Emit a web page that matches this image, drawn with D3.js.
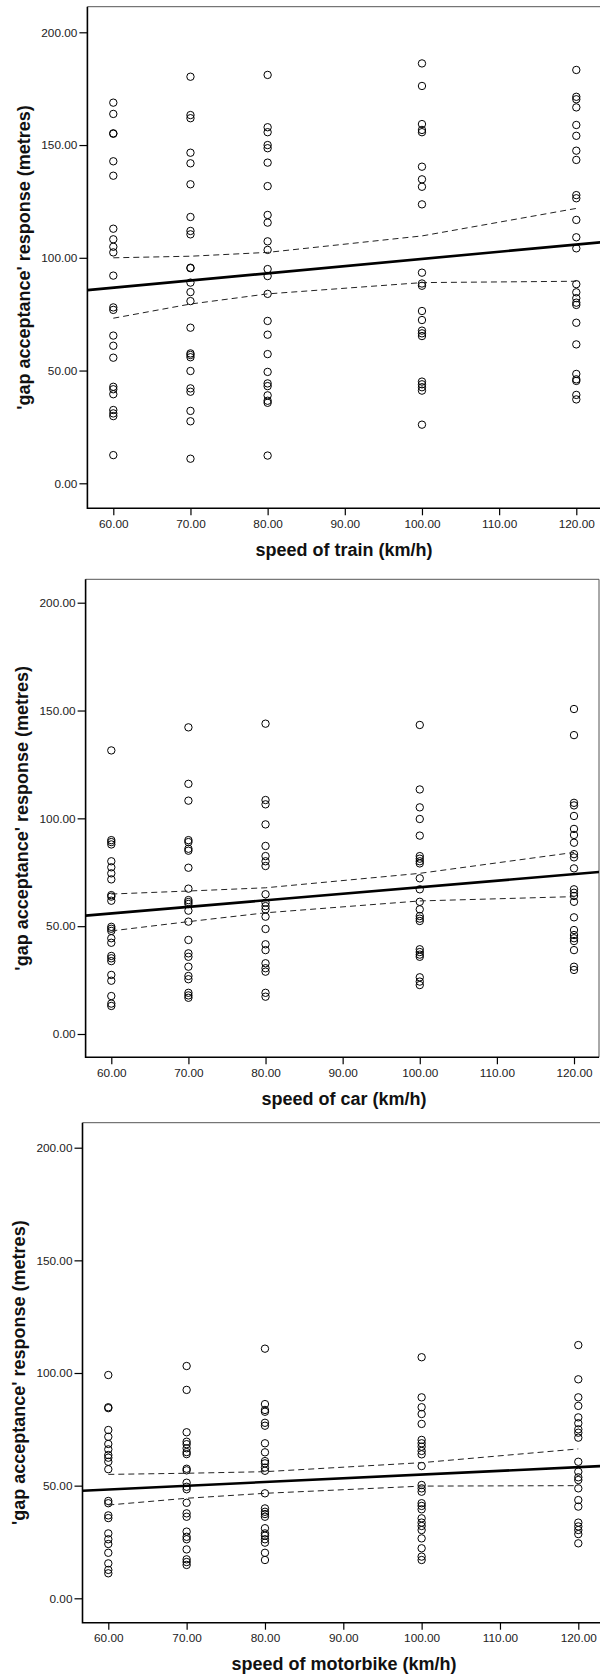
<!DOCTYPE html>
<html>
<head>
<meta charset="utf-8">
<script src="https://cdn.jsdelivr.net/npm/d3@7"></script>
<style>
  html, body { margin: 0; padding: 0; background: #fff; }
  svg { display: block; }
  text { font-family: "Liberation Sans", Arial, sans-serif; }
</style>
</head>
<body>
<svg id="chart" width="600" height="1678"></svg>
<script>
// ---------------- DATA ----------------
const speeds = [60, 70, 80, 100, 120];
const yTicks = [0, 50, 100, 150, 200];
const xTicks = [60, 70, 80, 90, 100, 110, 120];
const yTitle = "'gap acceptance' response (metres)";
const xTitles = ["speed of train (km/h)", "speed of car (km/h)", "speed of motorbike (km/h)"];

// responses per speed (60, 70, 80, 100, 120)
const trainResponses = [
  [168.8, 163.8, 155.2, 155.0, 142.8, 136.4, 112.9, 108.2, 104.9, 102.4, 92.1, 78.0, 76.9, 65.5, 61.0, 55.7, 42.8, 41.7, 39.5, 32.5, 31.0, 29.8, 12.5],
  [180.3, 163.3, 161.9, 146.6, 141.9, 132.6, 118.1, 111.9, 110.4, 95.6, 95.4, 89.0, 84.8, 80.8, 69.0, 57.6, 56.9, 55.9, 49.8, 42.1, 40.6, 32.1, 27.5, 10.9],
  [181.1, 157.9, 155.7, 150.0, 148.6, 142.2, 131.8, 119.0, 115.6, 107.3, 103.5, 95.0, 91.9, 84.0, 72.0, 65.9, 57.3, 49.4, 44.3, 43.1, 39.0, 36.6, 35.7, 12.3],
  [186.2, 176.2, 159.3, 156.7, 155.7, 140.4, 134.8, 131.5, 123.7, 93.4, 88.6, 87.6, 76.4, 72.4, 67.7, 66.5, 65.3, 45.1, 43.9, 42.6, 41.1, 26.0],
  [183.3, 171.4, 170.3, 166.7, 158.9, 154.1, 147.5, 143.4, 127.8, 126.4, 116.8, 109.1, 104.2, 88.3, 84.7, 82.1, 80.1, 79.1, 71.2, 61.6, 48.5, 46.1, 45.4, 39.2, 37.2]
];
const carResponses = [
  [131.5, 89.9, 89.0, 87.9, 80.1, 77.3, 74.5, 71.7, 64.4, 63.7, 61.8, 49.7, 48.8, 47.8, 44.4, 42.3, 36.2, 35.1, 33.8, 27.4, 24.7, 17.6, 14.1, 13.0],
  [142.2, 116.0, 108.2, 89.9, 89.0, 85.9, 85.0, 77.1, 67.4, 62.1, 61.2, 60.3, 57.2, 52.1, 43.6, 37.4, 35.8, 31.2, 26.9, 25.4, 19.1, 17.9, 16.8],
  [143.9, 108.5, 106.5, 97.2, 87.2, 82.5, 80.1, 77.9, 64.8, 60.9, 59.3, 57.8, 54.4, 48.7, 41.6, 38.9, 32.8, 30.5, 28.9, 19.1, 17.3],
  [143.3, 113.4, 105.1, 99.7, 92.0, 82.5, 81.3, 80.1, 79.1, 72.2, 67.1, 61.3, 57.8, 54.7, 53.5, 52.4, 39.3, 38.0, 36.8, 35.8, 26.3, 24.3, 22.7],
  [150.7, 138.6, 107.2, 106.0, 101.1, 95.1, 92.3, 88.7, 83.4, 81.9, 76.8, 67.1, 65.5, 64.0, 61.3, 54.1, 48.2, 45.9, 44.4, 43.1, 38.9, 31.2, 29.7]
];
const motorbikeResponses = [
  [99.1, 84.8, 84.4, 74.7, 71.7, 68.5, 66.1, 63.6, 62.4, 60.6, 57.3, 43.2, 42.2, 36.8, 35.6, 28.8, 26.2, 24.1, 20.2, 15.5, 12.6, 11.1],
  [103.1, 92.5, 73.7, 69.5, 68.4, 66.6, 64.9, 64.0, 57.5, 56.8, 51.3, 49.5, 48.4, 42.4, 37.7, 36.2, 29.6, 27.3, 26.2, 21.7, 17.3, 16.1, 14.8],
  [110.8, 86.2, 83.6, 82.8, 77.9, 76.6, 68.8, 64.8, 60.9, 59.9, 58.0, 56.6, 46.6, 39.9, 38.4, 37.4, 36.2, 31.1, 28.8, 27.8, 26.2, 24.7, 20.2, 17.0],
  [107.0, 89.2, 84.8, 81.8, 77.4, 70.3, 68.8, 67.3, 65.4, 63.9, 58.7, 50.3, 48.8, 47.3, 42.2, 41.0, 39.5, 35.5, 33.6, 32.1, 30.3, 26.6, 22.2, 18.5, 17.0],
  [112.4, 97.2, 89.2, 85.4, 80.3, 77.7, 75.0, 73.5, 71.3, 60.6, 56.2, 53.7, 52.5, 48.8, 43.6, 40.7, 33.6, 31.9, 30.3, 28.5, 24.4]
];

// linear fit (intercept, slope) per panel
const fitIntercepts = [67.6, 37.7, 38.4];
const fitSlopes = [0.319, 0.3035, 0.165];
// 95% CI of mean, at each speed
const ciUpper = [
  [100.0, 100.7, 102.4, 109.7, 121.9],
  [64.9, 66.3, 67.8, 74.5, 84.2],
  [55.0, 55.5, 56.2, 60.2, 66.3]
];
const ciLower = [
  [73.2, 79.5, 84.0, 89.0, 89.6],
  [47.8, 52.1, 56.2, 61.7, 63.7],
  [41.4, 44.4, 46.6, 49.8, 50.0]
];

// ---------------- LAYOUT ----------------
const panels = [
  { responses: trainResponses, x60: 113.3, x120: 576.3, left: 87.4, right: 606, y0: 483.3, y200: 32.3, top: 6.7, bottom: 508.3 },
  { responses: carResponses, x60: 111.3, x120: 574.0, left: 85.6, right: 599, y0: 1034.0, y200: 602.7, top: 579.3, bottom: 1057.3 },
  { responses: motorbikeResponses, x60: 108.3, x120: 578.3, left: 82.5, right: 606, y0: 1598.3, y200: 1147.7, top: 1122.7, bottom: 1622.7 }
];

const svg = d3.select("#chart");
const fmt = d3.format(".2f");

panels.forEach((p, i) => {
  const x = d3.scaleLinear().domain([60, 120]).range([p.x60, p.x120]);
  const y = d3.scaleLinear().domain([0, 200]).range([p.y0, p.y200]);
  const g = svg.append("g");

  const clipId = "clip" + i;
  svg.append("clipPath").attr("id", clipId)
    .append("rect").attr("x", p.left).attr("y", p.top)
    .attr("width", p.right - p.left).attr("height", p.bottom - p.top);

  // frame top/right (grey)
  g.append("path")
    .attr("d", `M${p.left},${p.top}H${p.right}V${p.bottom}`)
    .attr("fill", "none").attr("stroke", "#555").attr("stroke-width", 1);

  // y axis
  const yAxis = d3.axisLeft(y).tickValues(yTicks).tickFormat(fmt).tickSize(8).tickPadding(2);
  const ya = g.append("g").attr("transform", `translate(${p.left},0)`).call(yAxis);
  ya.select(".domain").remove();
  ya.selectAll(".tick line").attr("stroke", "#000").attr("stroke-width", 1.2);
  ya.selectAll(".tick text").attr("font-size", 11.8).attr("fill", "#222")
    .attr("font-family", "'Liberation Sans', Arial, sans-serif");

  // x axis
  const xAxis = d3.axisBottom(x).tickValues(xTicks).tickFormat(fmt).tickSize(7).tickPadding(4);
  const xa = g.append("g").attr("transform", `translate(0,${p.bottom})`).call(xAxis);
  xa.select(".domain").remove();
  xa.selectAll(".tick line").attr("stroke", "#000").attr("stroke-width", 1.2);
  xa.selectAll(".tick text").attr("font-size", 11.8).attr("fill", "#222")
    .attr("font-family", "'Liberation Sans', Arial, sans-serif");

  // left and bottom axis lines (black)
  g.append("path")
    .attr("d", `M${p.left},${p.top}V${p.bottom}H${p.right}`)
    .attr("fill", "none").attr("stroke", "#000").attr("stroke-width", 1.6);

  // points
  const pts = [];
  p.responses.forEach((arr, k) => arr.forEach(v => pts.push({ s: speeds[k], v })));
  g.append("g").selectAll("circle").data(pts).join("circle")
    .attr("cx", d => x(d.s)).attr("cy", d => y(d.v)).attr("r", 3.7)
    .attr("fill", "none").attr("stroke", "#000").attr("stroke-width", 1);

  // CI lines (dashed)
  const ciLine = d3.line().x(d => x(d[0])).y(d => y(d[1]));
  [ciUpper[i], ciLower[i]].forEach(arr => {
    g.append("path")
      .attr("d", ciLine(speeds.map((s, k) => [s, arr[k]])))
      .attr("fill", "none").attr("stroke", "#222").attr("stroke-width", 1)
      .attr("stroke-dasharray", "6,4");
  });

  // fit line
  const xs = [x.invert(p.left), x.invert(p.right)];
  g.append("path")
    .attr("clip-path", `url(#${clipId})`)
    .attr("d", ciLine(xs.map(s => [s, fitIntercepts[i] + fitSlopes[i] * s])))
    .attr("fill", "none").attr("stroke", "#000").attr("stroke-width", 2.6);

  // titles
  g.append("text")
    .attr("x", 344).attr("y", p.bottom + 43)
    .attr("text-anchor", "middle").attr("dominant-baseline", "middle")
    .attr("font-weight", "bold").attr("font-size", 18).attr("fill", "#111")
    .text(xTitles[i]);
  g.append("text")
    .attr("transform", `translate(${p.left - 62},${(p.top + p.bottom) / 2}) rotate(-90)`)
    .attr("text-anchor", "middle").attr("dominant-baseline", "middle")
    .attr("font-weight", "bold").attr("font-size", 18).attr("fill", "#111")
    .text(yTitle);
});
</script>
</body>
</html>
